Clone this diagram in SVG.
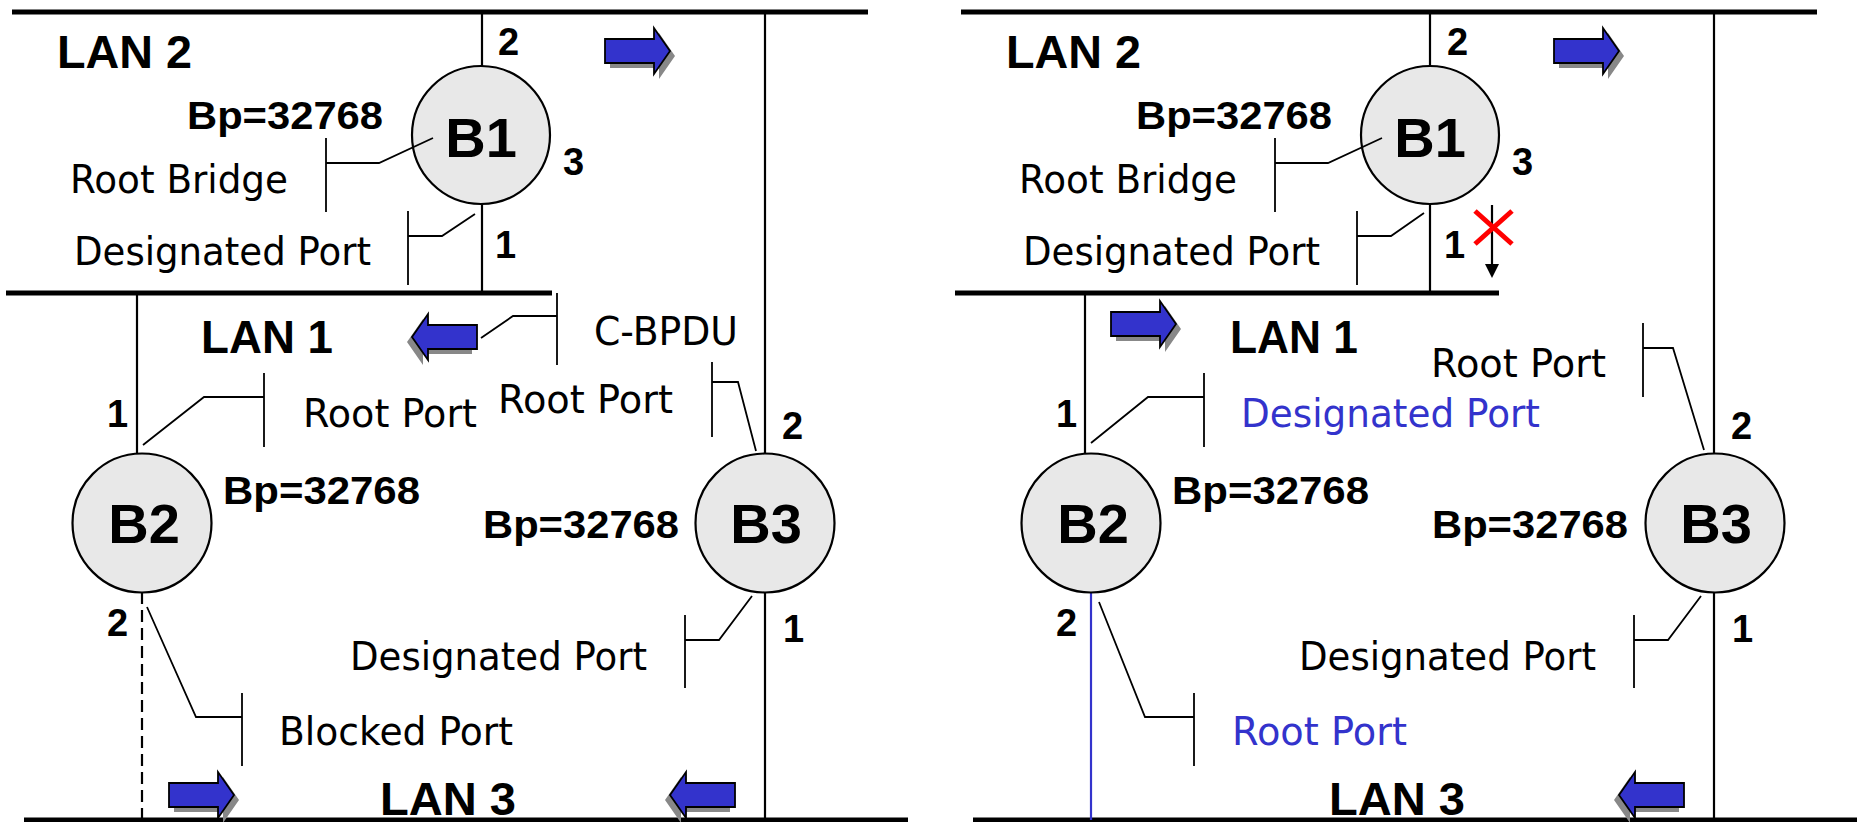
<svg xmlns="http://www.w3.org/2000/svg" xmlns:xlink="http://www.w3.org/1999/xlink" width="1860" height="822" viewBox="0 0 1860 822">
<style>
.lan{stroke:#000;stroke-width:5;fill:none}
.wire{stroke:#000;stroke-width:2.2;fill:none}
.call{stroke:#000;stroke-width:1.8;fill:none}
.br{fill:#e8e8e8;stroke:#000;stroke-width:2.2}
.b{font-family:"Liberation Sans",Arial,sans-serif;font-weight:bold;fill:#000}
.r{font-family:"DejaVu Sans","Liberation Sans",sans-serif;font-size:39px;fill:#000}
.blue{fill:#3333cc}
.lanlbl{font-size:47px}
.bp{font-size:38px}
.port{font-size:38px}
.bn{font-size:56px;text-anchor:middle}
</style>
<defs>
<g id="arr">
<path d="M0,-12H49V-23L65,0L49,23V12H0Z" transform="translate(5,5)" fill="#888"/>
<path d="M0,-12H49V-23L65,0L49,23V12H0Z" fill="#3333cc" stroke="#000" stroke-width="1.8" stroke-linejoin="miter"/>
</g>
</defs>
<rect width="1860" height="822" fill="#fff"/>

<!-- LEFT PANEL -->
<g id="lans-left">
<line class="lan" x1="12" y1="12" x2="868" y2="12"/>
<line class="lan" x1="6" y1="293" x2="552" y2="293"/>
<line class="lan" x1="24" y1="820" x2="908" y2="820"/>
<text class="b lanlbl" x="57" y="68" textLength="135" lengthAdjust="spacingAndGlyphs">LAN 2</text>
<text class="b lanlbl" x="201" y="353" textLength="132" lengthAdjust="spacingAndGlyphs">LAN 1</text>
<text class="b lanlbl" x="380" y="815" textLength="136" lengthAdjust="spacingAndGlyphs">LAN 3</text>
</g>
<g id="connectors-left">
<line class="wire" x1="482" y1="12" x2="482" y2="293"/>
<line class="wire" x1="765" y1="12" x2="765" y2="820"/>
<line class="wire" x1="137" y1="293" x2="137" y2="455"/>
<line class="wire" x1="142" y1="592" x2="142" y2="820" stroke-dasharray="12 6"/>
</g>
<g id="B1-left">
<circle class="br" cx="481" cy="135" r="69"/>
<text class="b bn" x="481" y="157">B1</text>
<text class="b port" x="498" y="55">2</text>
<text class="b port" x="563" y="175">3</text>
<text class="b port" x="495" y="258">1</text>
<text class="b bp" x="187" y="129" textLength="196" lengthAdjust="spacingAndGlyphs">Bp=32768</text>
<text class="r" x="70" y="193" textLength="218" lengthAdjust="spacingAndGlyphs">Root Bridge</text>
<polyline class="call" points="326,138 326,212"/>
<polyline class="call" points="326,163 379,163 433,138"/>
<text class="r" x="74" y="265" textLength="297" lengthAdjust="spacingAndGlyphs">Designated Port</text>
<polyline class="call" points="408,211 408,285"/>
<polyline class="call" points="408,236 442,236 475,214"/>
</g>
<g id="B2-left">
<circle class="br" cx="142" cy="523" r="69.5"/>
<text class="b bn" x="144" y="543">B2</text>
<text class="b port" x="107" y="427">1</text>
<text class="b port" x="107" y="636">2</text>
<text class="b bp" x="223" y="504" textLength="197" lengthAdjust="spacingAndGlyphs">Bp=32768</text>
<text class="r" x="303" y="427" textLength="174" lengthAdjust="spacingAndGlyphs">Root Port</text>
<polyline class="call" points="264,373 264,447"/>
<polyline class="call" points="264,397 204,397 143,445"/>
<text class="r" x="279" y="745" textLength="234" lengthAdjust="spacingAndGlyphs">Blocked Port</text>
<polyline class="call" points="242,693 242,766"/>
<polyline class="call" points="242,717 196,717 147,607"/>
</g>
<g id="B3-left">
<circle class="br" cx="765" cy="523" r="69.5"/>
<text class="b bn" x="766" y="543">B3</text>
<text class="b port" x="782" y="439">2</text>
<text class="b port" x="783" y="642">1</text>
<text class="b bp" x="483" y="538" textLength="196" lengthAdjust="spacingAndGlyphs">Bp=32768</text>
<text class="r" x="498" y="413" textLength="175" lengthAdjust="spacingAndGlyphs">Root Port</text>
<polyline class="call" points="712,362 712,437"/>
<polyline class="call" points="712,382 738,382 756,451"/>
<text class="r" x="350" y="670" textLength="297" lengthAdjust="spacingAndGlyphs">Designated Port</text>
<polyline class="call" points="685,615 685,688"/>
<polyline class="call" points="685,640 719,640 752,596"/>
</g>
<g id="cbpdu-left">
<text class="r" x="594" y="345" textLength="144" lengthAdjust="spacingAndGlyphs">C-BPDU</text>
<polyline class="call" points="557,293 557,365"/>
<polyline class="call" points="557,316 513,316 481,338"/>
</g>
<g id="arrows-left">
<use xlink:href="#arr" transform="translate(605,51)"/>
<use xlink:href="#arr" transform="translate(477,337) scale(-1,1)"/>
<use xlink:href="#arr" transform="translate(169,795)"/>
<use xlink:href="#arr" transform="translate(735,795) scale(-1,1)"/>
</g>

<!-- RIGHT PANEL -->
<g id="lans-right">
<line class="lan" x1="961" y1="12" x2="1817" y2="12"/>
<line class="lan" x1="955" y1="293" x2="1499" y2="293"/>
<line class="lan" x1="973" y1="820" x2="1857" y2="820"/>
<text class="b lanlbl" x="1006" y="68" textLength="135" lengthAdjust="spacingAndGlyphs">LAN 2</text>
<text class="b lanlbl" x="1230" y="353" textLength="128" lengthAdjust="spacingAndGlyphs">LAN 1</text>
<text class="b lanlbl" x="1329" y="815" textLength="136" lengthAdjust="spacingAndGlyphs">LAN 3</text>
</g>
<g id="connectors-right">
<line class="wire" x1="1430" y1="12" x2="1430" y2="293"/>
<line class="wire" x1="1714" y1="12" x2="1714" y2="820"/>
<line class="wire" x1="1085" y1="293" x2="1085" y2="455"/>
<line x1="1091" y1="592" x2="1091" y2="820" stroke="#3333cc" stroke-width="2.2"/>
<line class="wire" x1="1492" y1="205" x2="1492" y2="266"/>
<polygon points="1485,264 1499,264 1492,278" fill="#000"/>
<line x1="1475" y1="211" x2="1512" y2="244" stroke="#ff0000" stroke-width="5"/>
<line x1="1512" y1="211" x2="1475" y2="244" stroke="#ff0000" stroke-width="5"/>
</g>
<g id="B1-right">
<circle class="br" cx="1430" cy="135" r="69"/>
<text class="b bn" x="1430" y="157">B1</text>
<text class="b port" x="1447" y="55">2</text>
<text class="b port" x="1512" y="175">3</text>
<text class="b port" x="1444" y="258">1</text>
<text class="b bp" x="1136" y="129" textLength="196" lengthAdjust="spacingAndGlyphs">Bp=32768</text>
<text class="r" x="1019" y="193" textLength="218" lengthAdjust="spacingAndGlyphs">Root Bridge</text>
<polyline class="call" points="1275,138 1275,212"/>
<polyline class="call" points="1275,163 1328,163 1382,138"/>
<text class="r" x="1023" y="265" textLength="297" lengthAdjust="spacingAndGlyphs">Designated Port</text>
<polyline class="call" points="1357,211 1357,285"/>
<polyline class="call" points="1357,236 1391,236 1424,213"/>
</g>
<g id="B2-right">
<circle class="br" cx="1091" cy="523" r="69.5"/>
<text class="b bn" x="1093" y="543">B2</text>
<text class="b port" x="1056" y="427">1</text>
<text class="b port" x="1056" y="636">2</text>
<text class="b bp" x="1172" y="504" textLength="197" lengthAdjust="spacingAndGlyphs">Bp=32768</text>
<text class="r blue" x="1241" y="427" textLength="299" lengthAdjust="spacingAndGlyphs">Designated Port</text>
<polyline class="call" points="1204,373 1204,447"/>
<polyline class="call" points="1204,397 1148,397 1091,443"/>
<text class="r blue" x="1232" y="745" textLength="175" lengthAdjust="spacingAndGlyphs">Root Port</text>
<polyline class="call" points="1194,693 1194,766"/>
<polyline class="call" points="1194,717 1145,717 1099,602"/>
</g>
<g id="B3-right">
<circle class="br" cx="1715" cy="523" r="69.5"/>
<text class="b bn" x="1716" y="543">B3</text>
<text class="b port" x="1731" y="439">2</text>
<text class="b port" x="1732" y="642">1</text>
<text class="b bp" x="1432" y="538" textLength="196" lengthAdjust="spacingAndGlyphs">Bp=32768</text>
<text class="r" x="1431" y="377" textLength="175" lengthAdjust="spacingAndGlyphs">Root Port</text>
<polyline class="call" points="1643,323 1643,397"/>
<polyline class="call" points="1643,348 1673,348 1704,450"/>
<text class="r" x="1299" y="670" textLength="297" lengthAdjust="spacingAndGlyphs">Designated Port</text>
<polyline class="call" points="1634,615 1634,688"/>
<polyline class="call" points="1634,640 1668,640 1701,596"/>
</g>
<g id="arrows-right">
<use xlink:href="#arr" transform="translate(1554,51)"/>
<use xlink:href="#arr" transform="translate(1111,324)"/>
<use xlink:href="#arr" transform="translate(1684,795) scale(-1,1)"/>
</g>
</svg>
